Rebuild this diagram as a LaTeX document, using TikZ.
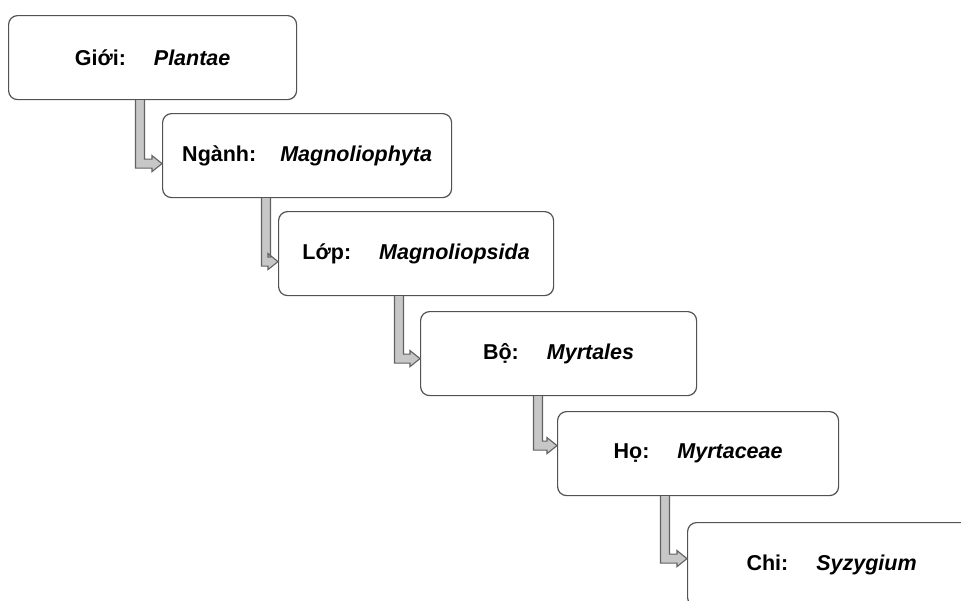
\documentclass[tikz,border=0pt]{standalone}
\usepackage{fontspec}
\setmainfont{Liberation Sans}
\usetikzlibrary{calc}

% elbow arrow: from node, to node, x of the shaft, shift of the tip
\newcommand{\elbow}[4]{%
  \draw[elbowarrow] let \p1=(#1.south), \p2=(#2.west) in
    (#3pt-4.5pt,\y1) -- (#3pt-4.5pt,\y2+#4pt-4.5pt) -- (\x2-10pt,\y2+#4pt-4.5pt)
    -- (\x2-10pt,\y2+#4pt-8pt) -- (\x2,\y2+#4pt) -- (\x2-10pt,\y2+#4pt+8pt)
    -- (\x2-10pt,\y2+#4pt+4.5pt) -- (#3pt+4.5pt,\y2+#4pt+4.5pt) -- (#3pt+4.5pt,\y1);}

\begin{document}
\begin{tikzpicture}[x=1pt, y=1pt,
    taxbox/.style={draw=black!68, line width=1.2pt, rounded corners=9pt, fill=white,
      anchor=north west, minimum height=84pt, inner sep=0pt,
      font=\fontsize{21.5}{24}\selectfont\bfseries},
    elbowarrow/.style={draw=black!62, line width=1.1pt, fill=black!22, line join=miter}]
  \useasboundingbox (0,0) rectangle (961,-600);
  \clip (0,0) rectangle (961,-600);
  % Draw the ranks
  \node[taxbox, minimum width=288pt] (gioi) at (8,-15) {Giới:\hspace{28pt}\textit{Plantae}};
  \node[taxbox, minimum width=289pt] (nganh) at (162,-113) {Ngành:\hspace{24pt}\textit{Magnoliophyta}};
  \node[taxbox, minimum width=275pt] (lop) at (278,-211) {Lớp:\hspace{28pt}\textit{Magnoliopsida}};
  \node[taxbox, minimum width=276pt] (bo) at (420,-311) {Bộ:\hspace{28pt}\textit{Myrtales}};
  \node[taxbox, minimum width=281pt] (ho) at (557,-411) {Họ:\hspace{28pt}\textit{Myrtaceae}};
  \node[taxbox, minimum width=288pt] (chi) at (687,-522) {Chi:\hspace{28pt}\textit{Syzygium}};
  % Draw the arrows
  \elbow{gioi}{nganh}{140}{-8}
  \elbow{nganh}{lop}{266}{-8}
  \elbow{lop}{bo}{399}{-5}
  \elbow{bo}{ho}{538}{8}
  \elbow{ho}{chi}{665}{6}
\end{tikzpicture}
\end{document}
